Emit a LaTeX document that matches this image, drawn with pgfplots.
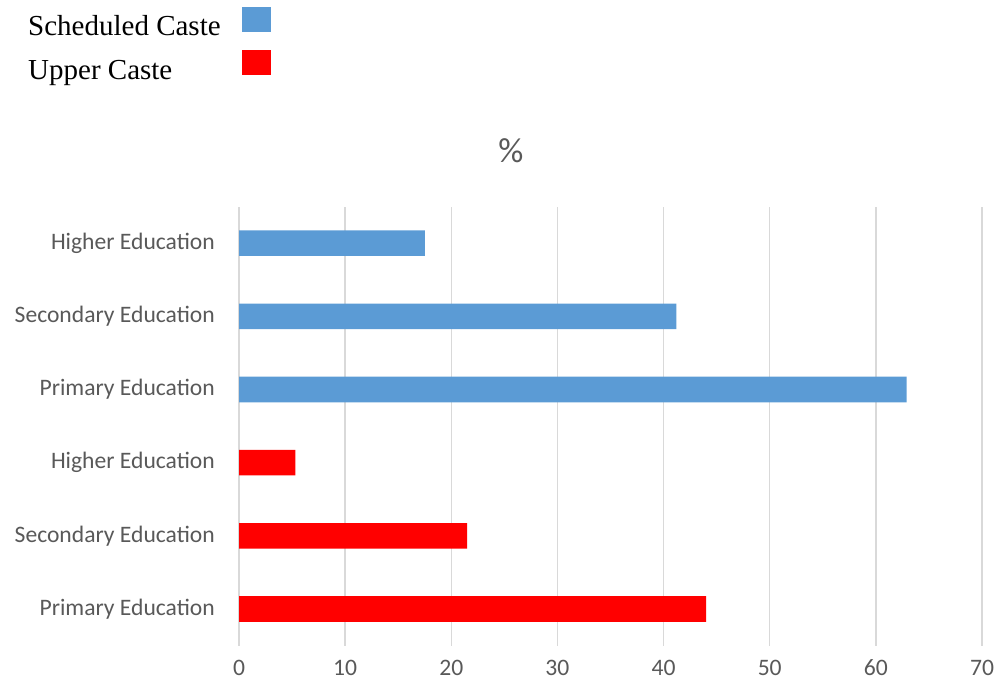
\documentclass[border=0pt]{standalone}
\usepackage{fontspec}
\setmainfont{Carlito}
\newfontfamily\legfont{Liberation Serif}
\usepackage{pgfplots}
\pgfplotsset{compat=1.18}
\definecolor{scblue}{HTML}{5B9BD5}
\definecolor{ucred}{HTML}{FF0000}
\definecolor{txtgray}{HTML}{595959}
\definecolor{gridgray}{HTML}{D9D9D9}
\begin{document}
\begin{tikzpicture}[x=1pt,y=1pt]
\useasboundingbox (0,0) rectangle (1006,694);
\begin{axis}[
  at={(239pt,48.4pt)}, anchor=south west,
  scale only axis, width=743pt, height=439pt,
  xbar, bar width=25.6pt,
  xmin=0, xmax=70, ymin=-0.5, ymax=5.5,
  xtick={0,10,...,70}, ytick={0,...,5},
  yticklabels={Primary Education, Secondary Education, Higher Education, Primary Education, Secondary Education, Higher Education},
  axis line style={draw=none},
  major tick length=0pt,
  xmajorgrids, major grid style={gridgray, line width=1.5pt},
  ticklabel style={font=\fontsize{23.6}{28}\selectfont, text=txtgray},
  yticklabel style={inner sep=0pt, xshift=-24pt},
  xticklabel style={inner sep=0pt, yshift=-14pt},
  /pgf/number format/assume math mode=true,
  title={\%},
  title style={at={(0.366,1.114)}, anchor=center, font=\fontsize{35}{40}\selectfont, text=txtgray, inner sep=0pt},
  legend plot pos=right,
  legend cell align=left,
  legend style={draw=none, fill=none, at={(-0.288,1.4604)}, anchor=north west,
    font=\legfont\fontsize{29}{34}\selectfont, text=black,
    row sep=13pt, column sep=21pt, nodes={inner sep=0pt}},
]
\addplot[fill=scblue, draw=none, bar shift=0pt,
  legend image code/.code={\fill[scblue] (0pt,-5pt) rectangle (29pt,20pt);}]
  coordinates {(17.5,5) (41.2,4) (62.9,3)};
\addlegendentry{Scheduled Caste}
\addplot[fill=ucred, draw=none, bar shift=0pt,
  legend image code/.code={\fill[ucred] (0pt,-5pt) rectangle (29pt,20pt);}]
  coordinates {(5.3,2) (21.5,1) (44.0,0)};
\addlegendentry{Upper Caste}
\end{axis}
\end{tikzpicture}
\end{document}
